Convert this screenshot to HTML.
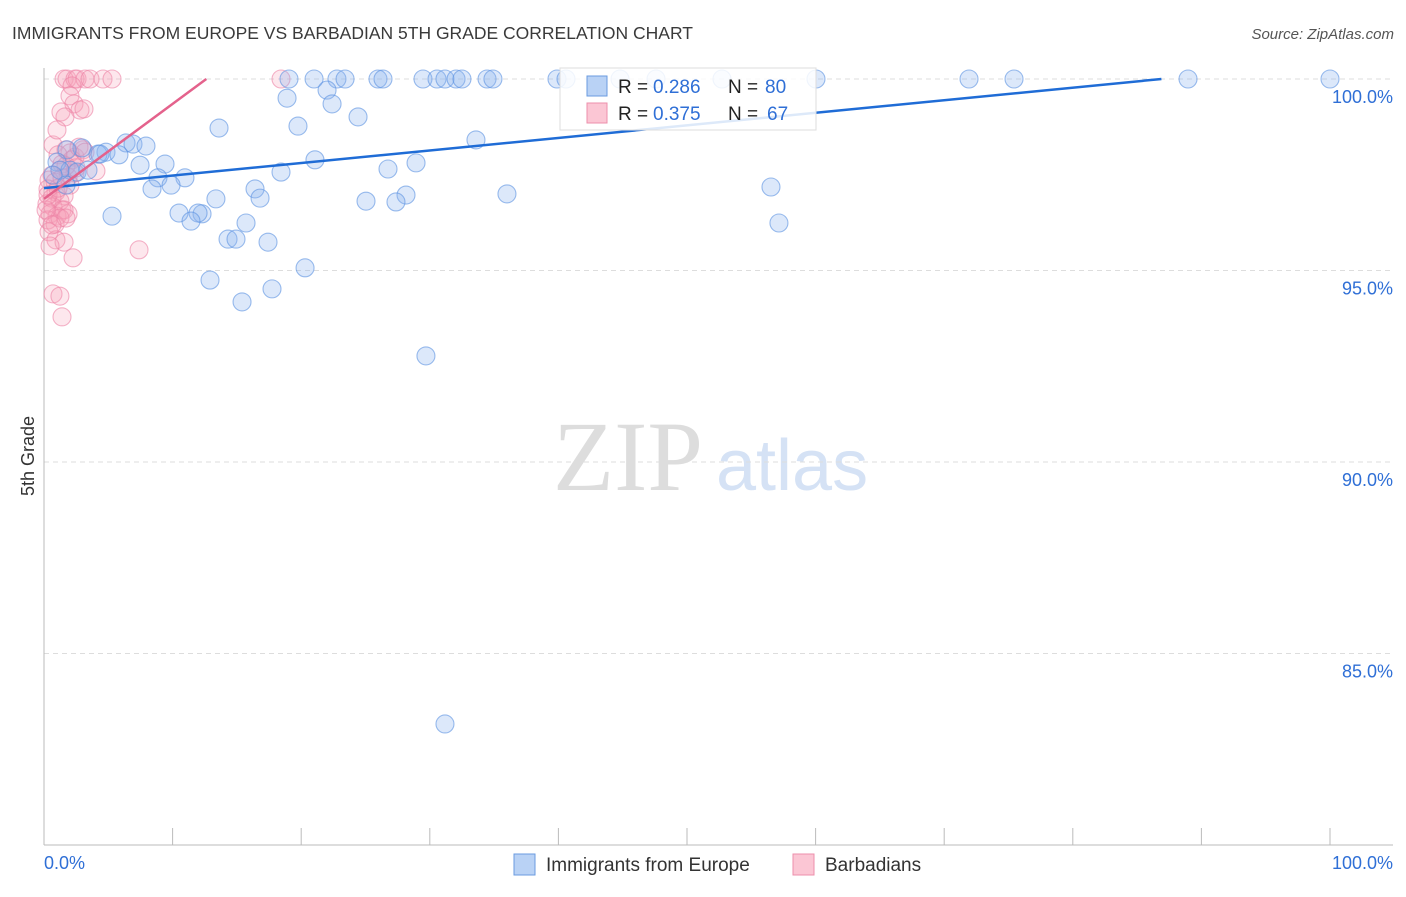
<!DOCTYPE html>
<html><head><meta charset="utf-8"><style>
body{margin:0;background:#fff;font-family:"Liberation Sans",sans-serif;}
</style></head><body>
<svg id="chart" width="1406" height="892" style="font-family:'Liberation Sans',sans-serif">
<text x="12" y="39" font-size="17.5" fill="#3a3a3a">IMMIGRANTS FROM EUROPE VS BARBADIAN 5TH GRADE CORRELATION CHART</text>
<text x="1394" y="39" font-size="15" fill="#555" font-style="italic" text-anchor="end">Source: ZipAtlas.com</text>
<text transform="translate(34,456) rotate(-90)" font-size="18" fill="#333" text-anchor="middle">5th Grade</text>
<g><text x="553" y="490" font-size="100" fill="#ddd" style="font-family:'Liberation Serif',serif">ZIP</text><text x="716" y="490" font-size="72" fill="#d5e2f5">atlas</text></g>
<g id="grid"></g><g id="axes"></g><g id="pts"></g><g id="lines"></g>
<g>
<rect x="560" y="68" width="256" height="62" fill="rgba(255,255,255,0.85)" stroke="#ddd"/>
<rect x="587" y="76" width="20" height="20" fill="#b9d2f5" stroke="#6a9be0"/>
<rect x="587" y="103" width="20" height="20" fill="#fbc6d4" stroke="#ec8fab"/>
<text x="618" y="93" font-size="19" fill="#222">R = </text><text x="653" y="93" font-size="19" fill="#2f6fd6">0.286</text>
<text x="728" y="93" font-size="19" fill="#222">N = </text><text x="765" y="93" font-size="19" fill="#2f6fd6">80</text>
<text x="618" y="120" font-size="19" fill="#222">R = </text><text x="653" y="120" font-size="19" fill="#2f6fd6">0.375</text>
<text x="728" y="120" font-size="19" fill="#222">N = </text><text x="767" y="120" font-size="19" fill="#2f6fd6">67</text>
</g>
<g>
<rect x="514" y="854" width="21" height="21" fill="#b9d2f5" stroke="#6a9be0"/>
<text x="546" y="871" font-size="19" fill="#333">Immigrants from Europe</text>
<rect x="793" y="854" width="21" height="21" fill="#fbc6d4" stroke="#ec8fab"/>
<text x="825" y="871" font-size="19" fill="#333">Barbadians</text>
</g>
<text x="44" y="869" font-size="18" fill="#2f6fd6">0.0%</text>
<text x="1393" y="869" font-size="18" fill="#2f6fd6" text-anchor="end">100.0%</text>
</svg>
<script>
const yTicks=[100,95,90,85];
const yTickLabels=["100.0%","95.0%","90.0%","85.0%"];
const bluePx=[[289,79],[314,79],[337,79],[345,79],[378,79],[383,79],[423,79],[437,79],[445,79],[456,79],[462,79],[487,79],[493,79],[557,79],[566,79],[620,79],[656,79],[722,79],[816,79],[969,79],[1014,79],[1188,79],[1330,79],[287,98],[327,90],[332,104],[358,117],[219,128],[298,126],[476,140],[126,143],[133,144],[146,146],[106,152],[98,154],[119,155],[82,148],[67,150],[57,162],[315,160],[416,163],[388,169],[165,164],[140,165],[70,170],[77,172],[88,170],[158,178],[185,178],[171,185],[152,189],[281,172],[255,189],[260,198],[216,199],[507,194],[406,195],[396,202],[366,201],[771,187],[112,216],[179,213],[202,214],[198,213],[191,221],[246,223],[228,239],[236,239],[268,242],[779,223],[305,268],[210,280],[242,302],[272,289],[426,356],[445,724],[60,170],[53,175],[66,185],[100,154]];
const pinkPx=[[64,79],[67,79],[75,79],[77,79],[85,79],[90,79],[103,79],[112,79],[281,79],[72,86],[70,96],[74,104],[61,112],[80,110],[84,109],[65,117],[53,145],[66,150],[70,153],[58,155],[75,157],[83,150],[62,164],[72,160],[60,170],[52,175],[68,177],[75,173],[96,171],[49,180],[55,182],[62,178],[70,185],[48,189],[56,192],[64,196],[52,198],[60,201],[47,204],[53,207],[62,210],[68,214],[50,214],[57,216],[64,210],[48,220],[55,224],[60,218],[66,218],[49,232],[56,240],[64,242],[50,246],[73,258],[139,250],[53,294],[60,296],[62,317],[46,210],[48,195],[58,188],[66,166],[79,147],[85,152],[57,130],[76,168],[52,225]];
const blueX=bluePx.map(p=>+((p[0]-44)/12.86).toFixed(2));
const blueY=bluePx.map(p=>+(100-(p[1]-79)/38.3).toFixed(2));
const pinkX=pinkPx.map(p=>+((p[0]-44)/12.86).toFixed(2));
const pinkY=pinkPx.map(p=>+(100-(p[1]-79)/38.3).toFixed(2));
const blueTrend=[97.15,0.0328];
const pinkTrend=[96.87,0.248];
const sx=v=>44+v*12.86, sy=v=>79+(100-v)*38.3;
const NS="http://www.w3.org/2000/svg";
function mk(t,a,parent){const e=document.createElementNS(NS,t);for(const k in a)e.setAttribute(k,a[k]);document.getElementById(parent).appendChild(e);return e;}
yTicks.forEach((t,i)=>{
 const l=mk('line',{x1:44,x2:1393,y1:sy(t),y2:sy(t),stroke:'#ddd','stroke-dasharray':'5,4'},'grid');
 
 
 const tx=mk('text',{x:1393,y:sy(t)+24,'font-size':18,fill:'#2f6fd6','text-anchor':'end'},'grid');
 tx.textContent=yTickLabels[i];
 
 
});
let a=mk('line',{x1:44,x2:44,y1:68,y2:845,stroke:'#bbb'},'axes');


a=mk('line',{x1:44,x2:1393,y1:845,y2:845,stroke:'#bbb'},'axes');


for(let i=0;i<=10;i++){const t=mk('line',{x1:sx(i*10),x2:sx(i*10),y1:828,y2:845,stroke:'#bbb'},'axes');
 
 }
pinkX.forEach((x,i)=>{const c=mk('circle',{cx:sx(x),cy:sy(pinkY[i]),r:9,fill:'rgba(246,160,185,0.25)',stroke:'rgba(236,130,165,0.6)','stroke-width':1.1},'pts');
 
 });
blueX.forEach((x,i)=>{const c=mk('circle',{cx:sx(x),cy:sy(blueY[i]),r:9,fill:'rgba(140,180,240,0.3)',stroke:'rgba(90,145,225,0.6)','stroke-width':1.1},'pts');
 
 });
const bx2=(100-blueTrend[0])/blueTrend[1];
let L=mk('line',{x1:sx(0),y1:sy(blueTrend[0]),x2:sx(bx2),y2:sy(100),stroke:'#1f6cd6','stroke-width':2.5},'lines');


const px2=(100-pinkTrend[0])/pinkTrend[1];
L=mk('line',{x1:sx(0),y1:sy(pinkTrend[0]),x2:sx(px2),y2:sy(100),stroke:'#e4628c','stroke-width':2.5},'lines');


</script>
</body></html>
